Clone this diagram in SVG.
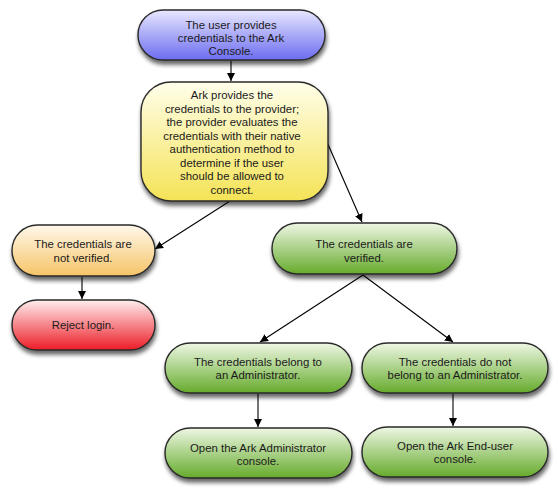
<svg xmlns="http://www.w3.org/2000/svg" width="558" height="491" viewBox="0 0 558 491">
<style>
.n{stroke:#2a2a2a;stroke-width:1.4;filter:url(#sh)}
.t{font-family:"Liberation Sans",Arial,sans-serif;font-size:11.4px;fill:#1a1a1a;text-anchor:middle}
.c{stroke:#000;stroke-width:1.1;fill:none;marker-end:url(#ah)}
</style>
<defs>
<filter id="sh" x="-20%" y="-30%" width="140%" height="170%">
<feGaussianBlur in="SourceAlpha" stdDeviation="2.2"/>
<feOffset dx="1" dy="4" result="b"/>
<feComponentTransfer><feFuncA type="linear" slope="0.6"/></feComponentTransfer>
<feMerge><feMergeNode/><feMergeNode in="SourceGraphic"/></feMerge>
</filter>
<marker id="ah" viewBox="0 0 10 10" refX="10" refY="5" markerWidth="8" markerHeight="8" markerUnits="userSpaceOnUse" orient="auto">
<path d="M0,0 L10,5 L0,10 z" fill="#000"/>
</marker>
<linearGradient id="gb" x1="0" y1="0" x2="0" y2="1"><stop offset="0" stop-color="#e8e8ff"/><stop offset="1" stop-color="#6c6cf0"/></linearGradient>
<linearGradient id="gy" x1="0" y1="0" x2="0" y2="1"><stop offset="0" stop-color="#fffeea"/><stop offset="1" stop-color="#f4e356"/></linearGradient>
<linearGradient id="go" x1="0" y1="0" x2="0" y2="1"><stop offset="0" stop-color="#fff8ea"/><stop offset="1" stop-color="#f6c468"/></linearGradient>
<linearGradient id="gr" x1="0" y1="0" x2="0" y2="1"><stop offset="0" stop-color="#ffeeee"/><stop offset="1" stop-color="#ec1c26"/></linearGradient>
<linearGradient id="gg" x1="0" y1="0" x2="0" y2="1"><stop offset="0" stop-color="#eef7e4"/><stop offset="1" stop-color="#66ab2c"/></linearGradient>
</defs>
<g id="connectors">
<line class="c" x1="231" y1="61" x2="231" y2="81"/>
<line class="c" x1="230" y1="201" x2="155" y2="249"/>
<line class="c" x1="327" y1="142" x2="362" y2="222"/>
<line class="c" x1="82" y1="277" x2="82" y2="299"/>
<line class="c" x1="363" y1="275" x2="260" y2="342"/>
<line class="c" x1="363" y1="275" x2="453" y2="342"/>
<line class="c" x1="258" y1="394" x2="258" y2="427"/>
<line class="c" x1="453" y1="394" x2="453" y2="426"/>
</g>
<g id="n1">
<rect class="n" x="138" y="10" width="187" height="50" rx="25" fill="url(#gb)"/>
<text class="t" x="231" y="29">The user provides</text>
<text class="t" x="231" y="42">credentials to the Ark</text>
<text class="t" x="231" y="55">Console.</text>
</g>
<g id="n2">
<rect class="n" x="141" y="82" width="187" height="119" rx="30" fill="url(#gy)"/>
<text class="t" x="232" y="99">Ark provides the</text>
<text class="t" x="232" y="112.5">credentials to the provider;</text>
<text class="t" x="232" y="126">the provider evaluates the</text>
<text class="t" x="232" y="139.5">credentials with their native</text>
<text class="t" x="232" y="153">authentication method to</text>
<text class="t" x="232" y="166.5">determine if the user</text>
<text class="t" x="232" y="180">should be allowed to</text>
<text class="t" x="232" y="193.5">connect.</text>
</g>
<g id="n3">
<rect class="n" x="12" y="225" width="143" height="51" rx="25.5" fill="url(#go)"/>
<text class="t" x="83" y="248">The credentials are</text>
<text class="t" x="83" y="262">not verified.</text>
</g>
<g id="n4">
<rect class="n" x="12" y="300" width="143" height="50" rx="25" fill="url(#gr)"/>
<text class="t" x="83" y="329">Reject login.</text>
</g>
<g id="n5">
<rect class="n" x="272" y="223" width="185" height="51" rx="25.5" fill="url(#gg)"/>
<text class="t" x="364" y="247.5">The credentials are</text>
<text class="t" x="364" y="261.5">verified.</text>
</g>
<g id="n6">
<rect class="n" x="165" y="343" width="187" height="50" rx="25" fill="url(#gg)"/>
<text class="t" x="258" y="366">The credentials belong to</text>
<text class="t" x="258" y="379">an Administrator.</text>
</g>
<g id="n7">
<rect class="n" x="362" y="343" width="186" height="50" rx="25" fill="url(#gg)"/>
<text class="t" x="455" y="366">The credentials do not</text>
<text class="t" x="455" y="379">belong to an Administrator.</text>
</g>
<g id="n8">
<rect class="n" x="165" y="428" width="187" height="50" rx="25" fill="url(#gg)"/>
<text class="t" x="258" y="452">Open the Ark Administrator</text>
<text class="t" x="258" y="465">console.</text>
</g>
<g id="n9">
<rect class="n" x="362" y="427" width="186" height="50" rx="25" fill="url(#gg)"/>
<text class="t" x="455" y="450">Open the Ark End-user</text>
<text class="t" x="455" y="463">console.</text>
</g>
</svg>
